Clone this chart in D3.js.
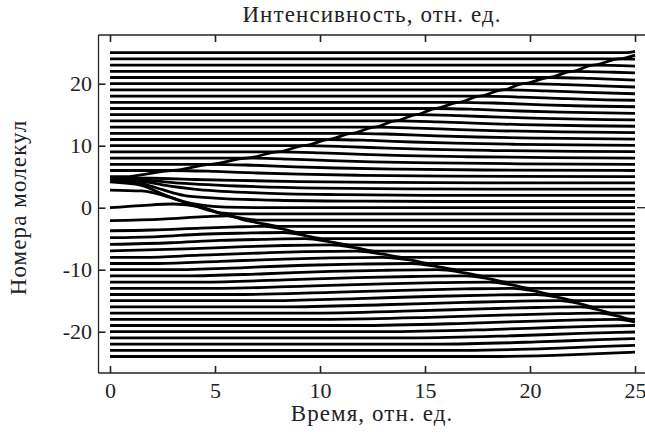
<!DOCTYPE html>
<html><head><meta charset="utf-8">
<script src="https://cdn.jsdelivr.net/npm/d3@7"></script>
<style>
html,body{margin:0;padding:0;background:#fff;}
svg{display:block;}
text{font-family:"Liberation Serif","DejaVu Serif",serif;fill:#222;}
</style></head>
<body>
<svg id="chart" width="645" height="432"></svg>
<script>
// ---- data ----
const xTicks = [0, 5, 10, 15, 20, 25];
const yTicks = [-20, -10, 0, 10, 20];
const titleText = "Интенсивность, отн. ед.";
const xLabel = "Время, отн. ед.";
const yLabel = "Номера молекул";

// molecule numbers (one trace each)
const molecules = [25,24,23,22,21,20,19,18,17,16,15,14,13,12,11,10,9,8,7,6,5,
  4,3,2,1,0,-1,-2,-3,-4,-5,-6,-7,-8,-9,-10,-11,-12,-13,-14,-15,-16,-17,-18,-19,-20,-21,-22,-23,-24];

// trace knots [time, level], one list per molecule (same order)
const traceKnots = [
  [[0,25],[24.6,25],[25,25.2]],
  [[0,24],[24.25,24],[25,24.6]],
  [[0,23],[23.0,23],[24.25,24],[25,23.95]],
  [[0,22],[22.0,22],[23.0,23],[25,22.85]],
  [[0,21],[20.9,21],[22.0,22],[24.0,21.85],[25,21.73]],
  [[0,20],[19.7,20],[20.9,21],[22.9,20.85],[25,20.59]],
  [[0,19],[18.7,19],[19.7,20],[21.7,19.85],[23.7,19.6],[25,19.47]],
  [[0,18],[17.6,18],[18.7,19],[20.7,18.85],[22.7,18.6],[25,18.38]],
  [[0,17],[16.6,17],[17.6,18],[19.6,17.85],[21.6,17.6],[23.6,17.4],[25,17.33]],
  [[0,16],[15.5,16],[16.6,17],[18.6,16.85],[20.6,16.6],[22.6,16.4],[25,16.28]],
  [[0,15],[14.6,15],[15.5,16],[17.5,15.85],[19.5,15.6],[21.5,15.4],[25,15.2]],
  [[0,14],[13.6,14],[14.6,15],[16.6,14.85],[18.6,14.6],[20.6,14.4],[23.6,14.22],[25,14.17]],
  [[0,13],[12.6,13],[13.6,14],[15.6,13.85],[17.6,13.6],[19.6,13.4],[22.6,13.22],[25,13.14]],
  [[0,12],[11.5,12],[12.6,13],[14.6,12.85],[16.6,12.6],[18.6,12.4],[21.6,12.22],[25,12.1]],
  [[0,11],[10.4,11],[11.5,12],[13.5,11.85],[15.5,11.6],[17.5,11.4],[20.5,11.22],[25,11.07]],
  [[0,10],[9.25,10],[10.4,11],[12.4,10.85],[14.4,10.6],[16.4,10.4],[19.4,10.22],[23.4,10.08],[25,10.05]],
  [[0,9],[8.0,9],[9.25,10],[11.25,9.85],[13.25,9.6],[15.25,9.4],[18.25,9.22],[22.25,9.08],[25,9.03]],
  [[0,8],[6.5,8],[8.0,9],[10,8.85],[12,8.6],[14,8.4],[17,8.22],[21,8.08],[25,8.01]],
  [[0,7],[4.8,7],[6.5,8],[8.5,7.85],[10.5,7.6],[12.5,7.4],[15.5,7.22],[19.5,7.08],[25,7]],
  [[0,6],[3.0,6],[4.8,7],[6.8,6.85],[8.8,6.6],[10.8,6.4],[13.8,6.22],[17.8,6.08],[25,6]],
  [[0,5],[0.7,5],[3.0,6],[5.0,5.85],[7.0,5.6],[9.0,5.4],[12.0,5.22],[16.0,5.08],[25,5]],
  [[0,4.8],[2,4.75],[4,4.55],[6,4.4],[9,4.22],[13,4.08],[18,4],[25,4]],
  [[0,4.6],[1.5,4.5],[3,4.05],[6,3.5],[10,3.15],[14,3.03],[18,3],[25,3]],
  [[0,4.45],[1.5,4.25],[2.5,3.7],[4,3.0],[7,2.4],[11,2.1],[15,2.0],[25,2]],
  [[0,4.3],[1.5,3.9],[2.5,2.9],[3.5,2.0],[5,1.55],[8,1.2],[12,1.05],[16,1],[25,1]],
  [[0,4.15],[1.5,3.6],[2.5,2.2],[3.5,1.0],[4.3,0.45],[5.5,0.1],[8,0],[25,0]],
  [[0,2.85],[1.5,2.7],[3,1.5],[4,0.35],[4.6,-0.3],[5.3,-0.85],[6.1,-1],[25,-1]],
  [[0,0],[1.5,0.35],[3,0.6],[4.3,0.15],[5.25,-0.9],[6.4,-1.75],[7.1,-2],[25,-2]],
  [[0,-2.1],[2.5,-1.85],[4.5,-1.45],[5.6,-1.3],[6.4,-2.0],[7.4,-2.65],[8,-3],[25,-3]],
  [[0,-3.72],[2,-3.6],[4.3,-3.3],[6,-3.1],[7.36,-3.0],[8.3,-3.5],[9,-4],[25,-4]],
  [[0,-4.84],[2.3,-4.65],[4.3,-4.28],[6.4,-4.1],[8.3,-4.0],[9.3,-4.5],[10.1,-5],[25,-5]],
  [[0,-5.92],[2.9,-5.65],[5.25,-5.28],[7.4,-5.1],[9.3,-5.0],[10.5,-5.5],[11.4,-6],[25,-6]],
  [[0,-6.97],[3.6,-6.65],[6.4,-6.28],[8.3,-6.1],[10.5,-6.0],[11.75,-6.5],[12.6,-7],[25,-7]],
  [[0,-8],[1.6,-8],[4.3,-7.65],[7.4,-7.28],[9.3,-7.1],[11.75,-7.0],[13,-7.5],[14,-8],[25,-8]],
  [[0,-9],[2.3,-9],[5.25,-8.65],[8.3,-8.28],[10.5,-8.1],[13,-8.0],[14.4,-8.5],[15.25,-9],[25,-9]],
  [[0,-10],[2.9,-10],[6.4,-9.65],[9.3,-9.28],[11.75,-9.1],[14.4,-9.0],[15.6,-9.5],[16.5,-10],[25,-10]],
  [[0,-11],[3.6,-11],[7.4,-10.65],[10.5,-10.28],[13,-10.1],[15.6,-10.0],[16.9,-10.5],[17.75,-11],[25,-11]],
  [[0,-12],[4.3,-12],[8.3,-11.65],[11.75,-11.28],[14.4,-11.1],[16.9,-11.0],[18.1,-11.5],[18.9,-12],[25,-12]],
  [[0,-13],[5.25,-13],[9.3,-12.65],[13,-12.28],[15.6,-12.1],[18.1,-12.0],[19.2,-12.5],[20,-13],[25,-13]],
  [[0,-14],[6.4,-14],[10.5,-13.65],[14.4,-13.28],[16.9,-13.1],[19.2,-13.0],[20.3,-13.5],[21.1,-14],[25,-14]],
  [[0,-15],[7.4,-15],[11.75,-14.65],[15.6,-14.28],[18.1,-14.1],[20.3,-14.0],[21.4,-14.5],[22.1,-15],[25,-15]],
  [[0,-16],[8.3,-16],[13,-15.65],[16.9,-15.28],[19.2,-15.1],[21.4,-15.0],[22.4,-15.5],[23,-16],[25,-16]],
  [[0,-17],[9.3,-17],[14.4,-16.65],[18.1,-16.28],[20.3,-16.1],[22.4,-16.0],[23.3,-16.5],[23.9,-17],[25,-17]],
  [[0,-18],[10.5,-18],[15.6,-17.65],[19.2,-17.28],[21.4,-17.1],[23.3,-17.0],[24.2,-17.5],[24.8,-18],[25,-18]],
  [[0,-19],[11.75,-19],[16.9,-18.65],[20.3,-18.28],[22.4,-18.1],[24.2,-18.0],[25,-18.45]],
  [[0,-20],[13,-20],[18.1,-19.65],[21.4,-19.28],[23.3,-19.1],[25,-19.0]],
  [[0,-21],[14.4,-21],[19.2,-20.65],[22.4,-20.28],[24.2,-20.1],[25,-20.05]],
  [[0,-22],[15.6,-22],[20.3,-21.65],[23.3,-21.28],[25,-21.11]],
  [[0,-23],[16.9,-23],[21.4,-22.65],[24.2,-22.28],[25,-22.19]],
  [[0,-24],[18.1,-24],[22.4,-23.65],[25,-23.29]]
];

// ---- layout ----
const svg = d3.select("#chart");
const W = 645, H = 432;
const plotLeft = 98.5, plotTop = 35, plotBottom = 373;
const x = d3.scaleLinear().domain([0, 25]).range([110, 635]);
const y = d3.scaleLinear().domain([0, 10]).range([207.7, 145.7]);

// traces
const traceLine = d3.line().x(d => x(d[0])).y(d => y(d[1])).curve(d3.curveMonotoneX);
svg.append("g").selectAll("path").data(traceKnots).join("path")
  .attr("d", traceLine)
  .attr("fill", "none")
  .attr("stroke", "#000")
  .attr("stroke-width", 2.8)
  .attr("stroke-linecap", "butt");

// frame: left, top, bottom spines (right side runs off the picture)
const frame = svg.append("g").attr("stroke", "#222").attr("stroke-width", 1.3).attr("fill", "none");
frame.append("line").attr("x1", plotLeft).attr("x2", plotLeft).attr("y1", plotTop).attr("y2", plotBottom);
frame.append("line").attr("x1", plotLeft).attr("x2", W).attr("y1", plotTop).attr("y2", plotTop);
frame.append("line").attr("x1", plotLeft).attr("x2", W).attr("y1", plotBottom).attr("y2", plotBottom);
frame.append("line").attr("x1", x(25) + 2).attr("x2", W).attr("y1", y(0)).attr("y2", y(0));

// axes with inward ticks; plain hyphen as minus sign, as in the reference
const fmt = d => String(d);
const gB = svg.append("g").attr("transform", `translate(0,${plotBottom})`)
  .call(d3.axisBottom(x).tickValues(xTicks).tickSize(-7).tickPadding(9).tickFormat(fmt));
const gT = svg.append("g").attr("transform", `translate(0,${plotTop})`)
  .call(d3.axisTop(x).tickValues(xTicks).tickSize(-7).tickFormat(""));
const gL = svg.append("g").attr("transform", `translate(${plotLeft},0)`)
  .call(d3.axisLeft(y).tickValues(yTicks).tickSize(-7).tickPadding(6.5).tickFormat(fmt));
[gB, gT, gL].forEach(g => {
  g.select(".domain").remove();
  g.selectAll(".tick line").attr("stroke", "#222").attr("stroke-width", 1.6);
  g.selectAll(".tick text").attr("font-family", "'Liberation Serif', serif").attr("font-size", 22).attr("fill", "#222");
});

// titles
const titleStyle = s => s.attr("font-size", 23).attr("letter-spacing", 1.1).attr("text-anchor", "middle");
svg.append("text").attr("x", 372).attr("y", 22).call(titleStyle).text(titleText);
svg.append("text").attr("x", 372).attr("y", 421).call(titleStyle).text(xLabel);
svg.append("text").attr("transform", `translate(26,207.5) rotate(-90)`).call(titleStyle).text(yLabel);
</script>
</body></html>
